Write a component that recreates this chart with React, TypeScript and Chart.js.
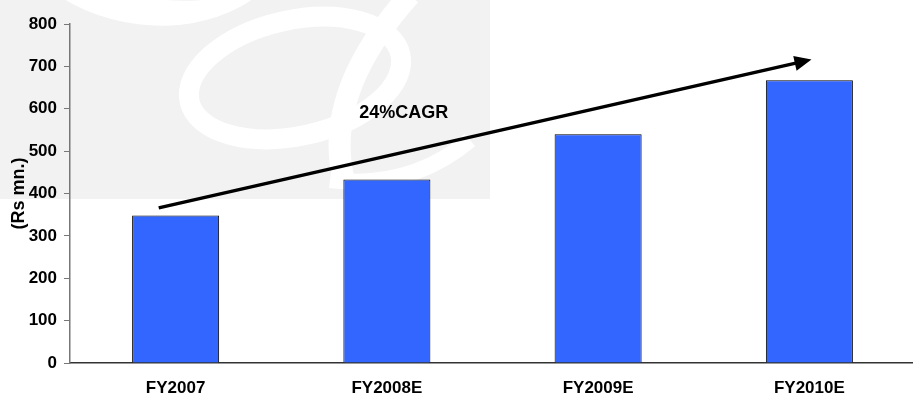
import React, { useEffect, useRef } from "react";
import { Chart, registerables } from "chart.js";

Chart.register(...registerables);

const categories = ["FY2007", "FY2008E", "FY2009E", "FY2010E"];
const revenue = [348, 433, 540, 667];
const yTicks = [0, 100, 200, 300, 400, 500, 600, 700, 800];
const yTitle = "(Rs mn.)";
const cagrLabel = "24%CAGR";
// arrow annotation in data space: [category index, value]
const arrowStart = [-0.08, 366];
const arrowEnd = [3.01, 716];
const labelAt = [1.08, 589];

const FONT = "Arial, 'Liberation Sans', Helvetica, sans-serif";

const watermark = {
  id: "watermark",
  beforeDraw(chart: any) {
    const ctx = chart.ctx;
    ctx.save();
    ctx.fillStyle = "#f2f2f2";
    ctx.fillRect(0, 0, 490, 199);
    ctx.beginPath();
    ctx.rect(0, 0, 490, 199);
    ctx.clip();
    ctx.fillStyle = "#ffffff";
    ctx.strokeStyle = "#ffffff";
    // top-left white lobe
    ctx.beginPath();
    ctx.ellipse(150, -75, 140, 100, 0.12, 0, Math.PI * 2);
    ctx.fill();
    ctx.fillStyle = "#f2f2f2";
    ctx.beginPath();
    ctx.ellipse(170, -95, 150, 95, 0.1, 0, Math.PI * 2);
    ctx.fill();
    // big loop
    ctx.lineWidth = 20;
    ctx.beginPath();
    ctx.ellipse(295, 78, 108, 58, -0.22, 0, Math.PI * 2);
    ctx.stroke();
    // descending stroke
    ctx.lineWidth = 22;
    ctx.beginPath();
    ctx.moveTo(410, -5);
    ctx.quadraticCurveTo(320, 95, 345, 185);
    ctx.stroke();
    // lower arc
    ctx.lineWidth = 16;
    ctx.beginPath();
    ctx.moveTo(330, 180);
    ctx.quadraticCurveTo(410, 190, 470, 140);
    ctx.stroke();
    ctx.restore();
  },
};

const annotations = {
  id: "annotations",
  afterDraw(chart: any) {
    const ctx = chart.ctx;
    const xs = chart.scales.x;
    const ys = chart.scales.y;
    const px = (i: number) => xs.getPixelForValue(i);
    const x1 = px(arrowStart[0]);
    const y1 = ys.getPixelForValue(arrowStart[1]);
    const x2 = px(arrowEnd[0]);
    const y2 = ys.getPixelForValue(arrowEnd[1]);
    const ang = Math.atan2(y2 - y1, x2 - x1);
    const headLen = 17;
    const headHalf = 7.5;
    const bx = x2 - headLen * Math.cos(ang);
    const by = y2 - headLen * Math.sin(ang);
    ctx.save();
    ctx.strokeStyle = "#000";
    ctx.fillStyle = "#000";
    ctx.lineWidth = 3.5;
    ctx.beginPath();
    ctx.moveTo(x1, y1);
    ctx.lineTo(bx + 2 * Math.cos(ang), by + 2 * Math.sin(ang));
    ctx.stroke();
    ctx.beginPath();
    ctx.moveTo(x2, y2);
    ctx.lineTo(bx - headHalf * Math.sin(ang), by + headHalf * Math.cos(ang));
    ctx.lineTo(bx + headHalf * Math.sin(ang), by - headHalf * Math.cos(ang));
    ctx.closePath();
    ctx.fill();
    ctx.font = `bold 18px ${FONT}`;
    ctx.textAlign = "center";
    ctx.textBaseline = "middle";
    ctx.fillText(cagrLabel, px(labelAt[0]), ys.getPixelForValue(labelAt[1]));
    ctx.restore();
  },
};

export default function App() {
  const ref = useRef<HTMLCanvasElement | null>(null);
  useEffect(() => {
    document.body.style.margin = "0";
    const canvas = ref.current!;
    const chart = new Chart(canvas, {
      type: "bar",
      data: {
        labels: categories,
        datasets: [
          {
            data: revenue,
            backgroundColor: "#3366ff",
            borderColor: "#000000",
            borderWidth: 1,
            categoryPercentage: 1,
            barPercentage: 0.412,
          },
        ],
      },
      options: {
        animation: false,
        responsive: false,
        maintainAspectRatio: false,
        devicePixelRatio: 1,
        layout: { padding: { top: 24, left: 0, right: 0, bottom: 0 } },
        plugins: { legend: { display: false }, tooltip: { enabled: false } },
        scales: {
          x: {
            grid: { display: false, drawTicks: false },
            border: { display: true, color: "#333", width: 1.5 },
            ticks: {
              color: "#000",
              padding: 15,
              font: { family: FONT, size: 17, weight: "bold" },
            },
            afterFit(scale: any) {
              scale.height = 32;
            },
          },
          y: {
            min: 0,
            max: 800,
            afterBuildTicks(scale: any) {
              scale.ticks = yTicks.map((v) => ({ value: v }));
            },
            grid: {
              drawOnChartArea: false,
              drawTicks: true,
              tickLength: 6,
              color: "#777",
            },
            border: { display: true, color: "#777", width: 1.5 },
            ticks: {
              color: "#000",
              padding: 7,
              font: { family: FONT, size: 17, weight: "bold" },
            },
            title: {
              display: true,
              text: yTitle,
              color: "#000",
              padding: { top: 8, bottom: 0 },
              font: { family: FONT, size: 18, weight: "bold" },
            },
            afterFit(scale: any) {
              scale.width = 70;
            },
          },
        },
      },
      plugins: [watermark, annotations],
    });
    return () => chart.destroy();
  }, []);
  return (
    <div
      style={{
        position: "fixed",
        left: 0,
        top: 0,
        width: 913,
        height: 395,
        overflow: "hidden",
        background: "#fff",
      }}
    >
      <canvas ref={ref} width={915} height={395} style={{ width: 915, height: 395, display: "block" }} />
    </div>
  );
}
